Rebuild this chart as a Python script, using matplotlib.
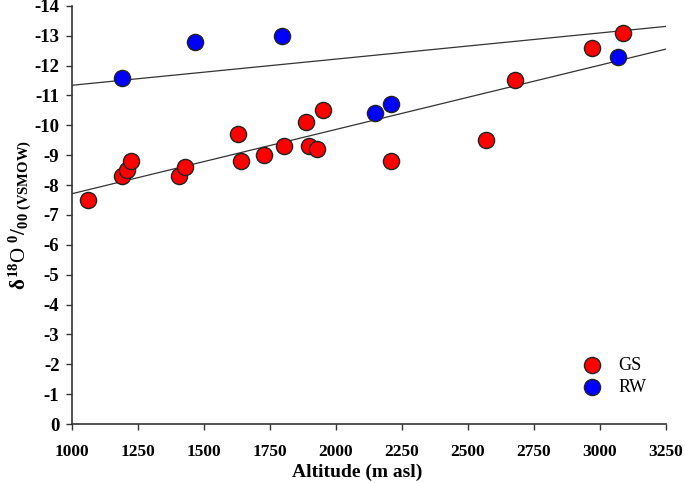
import matplotlib
matplotlib.use("Agg")
import matplotlib.pyplot as plt
import numpy as np

plt.rcParams['font.family'] = ['Liberation Serif', 'DejaVu Serif']
plt.rcParams['mathtext.fontset'] = 'custom'
plt.rcParams['mathtext.rm'] = 'Liberation Serif:bold'
plt.rcParams['mathtext.bf'] = 'Liberation Serif:bold'
plt.rcParams['mathtext.it'] = 'Liberation Serif:bold'

# Data
gs_alt = [1060, 1190, 1208, 1225, 1407, 1427, 1628, 1642, 1727, 1805, 1887, 1897,
          1930, 1950, 2207, 2567, 2679, 2971, 3087]
gs_d18o = [-7.5, -8.3, -8.5, -8.8, -8.3, -8.6, -9.7, -8.8, -9.0, -9.3, -10.1, -9.3,
           -9.2, -10.5, -8.8, -9.5, -11.5, -12.6, -13.1]
rw_alt = [1190, 1467, 1796, 2148, 2207, 3069]
rw_d18o = [-11.6, -12.8, -13.0, -10.4, -10.7, -12.3]

line_x = [1000, 3250]
gs_line_y = [-7.71, -12.55]
rw_line_y = [-11.34, -13.31]

xticks = [1000, 1250, 1500, 1750, 2000, 2250, 2500, 2750, 3000, 3250]
yticks = list(range(0, -15, -1))

fig = plt.figure(figsize=(6.85, 4.83), dpi=100)
ax = fig.add_axes([0.105, 0.122, 0.867, 0.866])

ax.plot(line_x, gs_line_y, color='#333333', lw=0.9, zorder=2)
ax.plot(line_x, rw_line_y, color='#333333', lw=0.9, zorder=2)

ax.scatter(gs_alt, gs_d18o, s=135, color='#ff0000', edgecolor='#222222', linewidth=1.0,
           zorder=3, label='GS')
ax.scatter(rw_alt, rw_d18o, s=135, color='#0000ff', edgecolor='#222222', linewidth=1.0,
           zorder=3, label='RW')

ax.set_xlim(1000, 3250)
ax.set_ylim(0, -14)
ax.set_xticks(xticks)
ax.set_yticks(yticks)
ax.set_xticklabels([str(t) for t in xticks], fontweight='bold', fontsize=12.5)
ax.set_yticklabels([str(t) for t in yticks], fontweight='bold', fontsize=13.5)
ax.tick_params(direction='out', length=4, width=1, color='#333333')
ax.tick_params(axis='x', pad=10)
ax.tick_params(axis='y', pad=5)

for s in ['top', 'right']:
    ax.spines[s].set_visible(False)
for s in ['left', 'bottom']:
    ax.spines[s].set_linewidth(1.2)
    ax.spines[s].set_color('#333333')

ax.set_xlabel('Altitude (m asl)', fontweight='bold', fontsize=14)
ax.xaxis.set_label_coords(0.48, -0.095)
ax.set_ylabel(r'$\delta^{18}$O $^{0}/_{00\ (VSMOW)}$', fontsize=15)
ax.yaxis.set_label_coords(-0.064, 0.5)

leg = ax.legend(loc='lower right', bbox_to_anchor=(0.98, 0.05), frameon=False,
                fontsize=13, handletextpad=0.5, labelspacing=0.3, borderaxespad=0)

fig.savefig('out.png', dpi=100)
